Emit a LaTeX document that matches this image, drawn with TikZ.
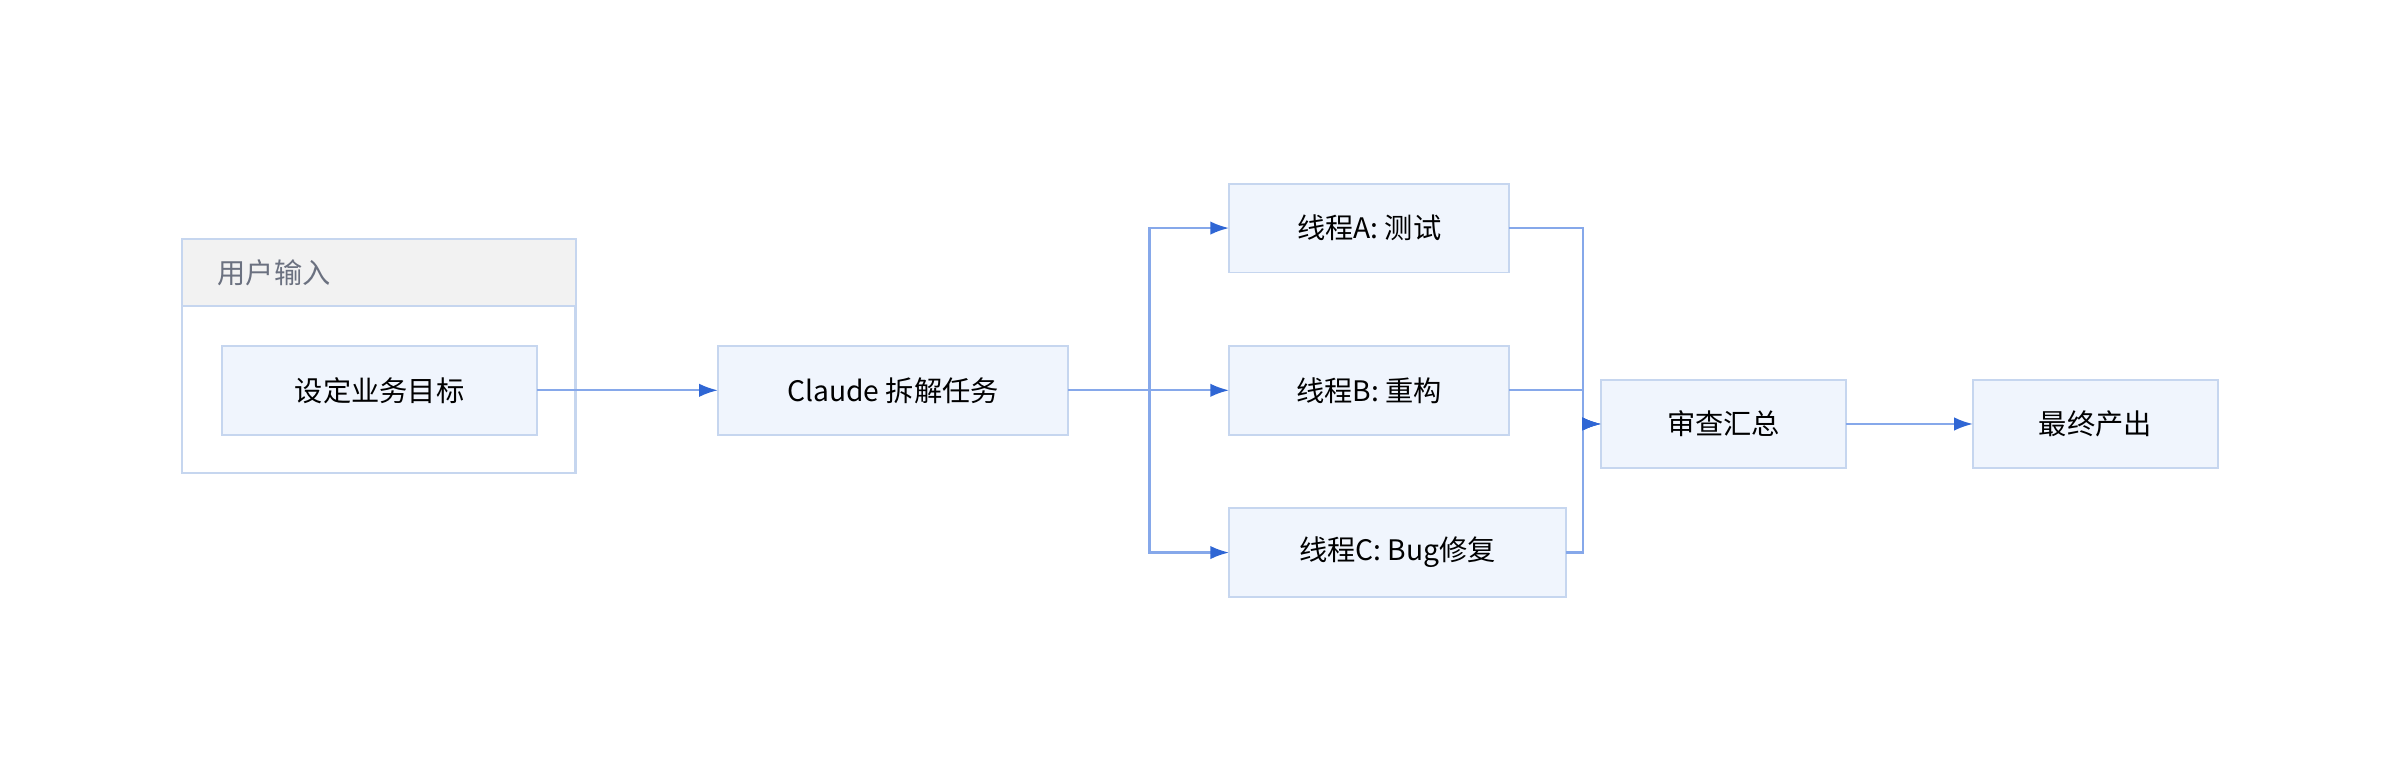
\documentclass[tikz,border=0pt]{standalone}
\usepackage{fontspec}
\setmainfont{Noto Sans CJK SC}
\usetikzlibrary{arrows.meta}
\definecolor{bfill}{HTML}{F0F5FD}
\definecolor{bdraw}{HTML}{C6D6EF}
\definecolor{edge}{HTML}{86A8EA}
\definecolor{tip}{HTML}{2F66D4}
\definecolor{gfill}{HTML}{F2F2F2}
\definecolor{gtext}{HTML}{6B7180}
\begin{document}
\begin{tikzpicture}[x=0.02cm,y=-0.02cm,
 box/.style={draw=bdraw,fill=bfill,line width=0.7pt,font=\fontsize{10.5pt}{12pt}\selectfont,text=black!85},
 arr/.style={draw=edge,line width=0.8pt,-{Latex[length=7pt,width=5pt,color=tip]}},
 ln/.style={draw=edge,line width=0.8pt}]
\useasboundingbox (0,0) rectangle (1568,510);
\draw[bdraw,line width=0.8pt] (119,156) rectangle (376,309);
\fill[gfill] (119.5,156.5) rectangle (375.5,200);
\draw[bdraw,line width=0.8pt] (119,200) -- (376,200);
\node[anchor=west,text=gtext,font=\fontsize{10.5pt}{12pt}\selectfont] (g) at (136,178) {用户输入};
\path[box] (145,226) rectangle (351,284); \node[font=\fontsize{10.5pt}{12pt}\selectfont] (s) at (248,255) {设定业务目标};
\coordinate (sR) at (351,255);
\path[box] (469,226) rectangle (698,284); \node[font=\fontsize{10.5pt}{12pt}\selectfont] (c) at (583.5,255) {Claude 拆解任务};
\coordinate (cL) at (469,255); \coordinate (cR) at (698,255);
\path[box] (803,120) rectangle (986,178); \node[font=\fontsize{10.5pt}{12pt}\selectfont] (a) at (894.5,149) {线程A: 测试};
\path[box] (803,226) rectangle (986,284); \node[font=\fontsize{10.5pt}{12pt}\selectfont] (b) at (894.5,255) {线程B: 重构};
\path[box] (803,332) rectangle (1023,390); \node[font=\fontsize{10.5pt}{12pt}\selectfont] (d) at (913,361) {线程C: Bug修复};
\path[box] (1046,248) rectangle (1206,306); \node[font=\fontsize{10.5pt}{12pt}\selectfont] (r) at (1126,277) {审查汇总};
\path[box] (1289,248) rectangle (1449,306); \node[font=\fontsize{10.5pt}{12pt}\selectfont] (f) at (1369,277) {最终产出};
\coordinate (aL) at (803,149); \coordinate (aR) at (986,149);
\coordinate (bL) at (803,255); \coordinate (bR) at (986,255);
\coordinate (dL) at (803,361); \coordinate (dR) at (1023,361);
\coordinate (rL) at (1046,277); \coordinate (rR) at (1206,277); \coordinate (fL) at (1289,277);
\draw[arr] (sR) -- (cL);
\draw[arr] (cR) -- (751,255) |- (aL);
\draw[arr] (cR) -- (bL);
\draw[arr] (cR) -- (751,255) |- (dL);
\draw[arr] (aR) -- (1034,149) |- (rL);
\draw[arr] (bR) -- (1034,255) |- (rL);
\draw[arr] (dR) -- (1034,361) |- (rL);
\draw[arr] (rR) -- (fL);
\end{tikzpicture}
\end{document}
